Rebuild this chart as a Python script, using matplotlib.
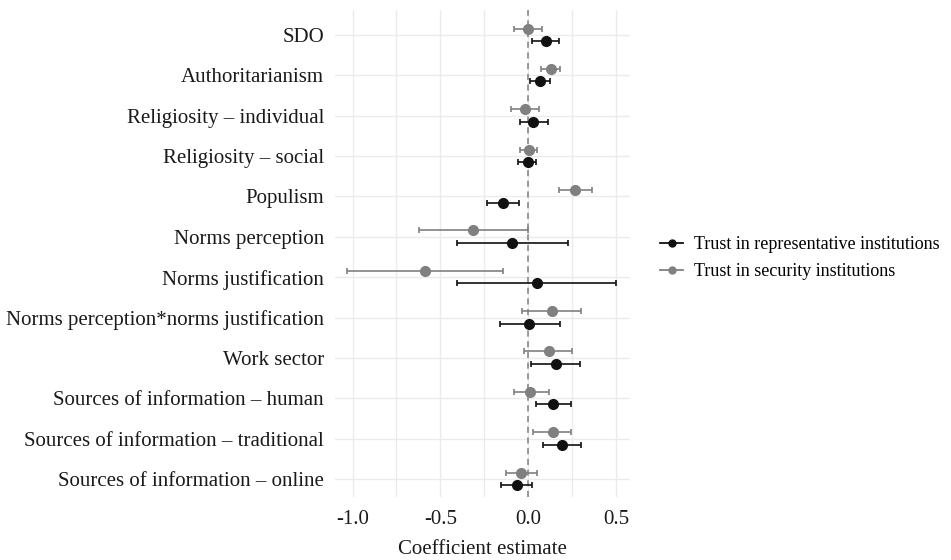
import matplotlib
matplotlib.use("Agg")
import matplotlib.pyplot as plt
from matplotlib.lines import Line2D
import numpy as np

plt.rcParams["font.family"] = ["Liberation Serif", "DejaVu Serif"]

# ── data ─────────────────────────────────────────────────────────────────────
PREDICTORS = [
    "SDO", "Authoritarianism", "Religiosity – individual", "Religiosity – social",
    "Populism", "Norms perception", "Norms justification",
    "Norms perception*norms justification", "Work sector",
    "Sources of information – human", "Sources of information – traditional",
    "Sources of information – online",
]

# Trust in representative institutions (black)
REP_EST = [0.104, 0.065, 0.028, -0.002, -0.144, -0.091, 0.051, 0.006, 0.156, 0.140, 0.193, -0.064]
REP_LO  = [0.021, 0.013, -0.047, -0.055, -0.236, -0.405, -0.405, -0.161, 0.015, 0.042, 0.085, -0.157]
REP_HI  = [0.178, 0.125, 0.112, 0.045, -0.051, 0.229, 0.502, 0.184, 0.294, 0.243, 0.303, 0.021]

# Trust in security institutions (gray)
SEC_EST = [0.000, 0.131, -0.017, 0.006, 0.265, -0.312, -0.589, 0.133, 0.116, 0.012, 0.140, -0.038]
SEC_LO  = [-0.080, 0.072, -0.098, -0.045, 0.176, -0.619, -1.032, -0.036, -0.023, -0.083, 0.028, -0.128]
SEC_HI  = [0.080, 0.184, 0.061, 0.051, 0.364, 0.000, -0.146, 0.303, 0.250, 0.118, 0.243, 0.051]

SERIES = [
    ("Trust in representative institutions", REP_EST, REP_LO, REP_HI, "#111111", -0.15),
    ("Trust in security institutions", SEC_EST, SEC_LO, SEC_HI, "#808080", 0.16),
]

fig = plt.figure(figsize=(9.51, 5.6), dpi=100)
ax = fig.add_axes([335 / 951, 63 / 560, 295 / 951, 487 / 560])

n = len(PREDICTORS)
y = np.arange(n)[::-1].astype(float)

for name, est, lo, hi, col, dy in SERIES:
    est = np.array(est); lo = np.array(lo); hi = np.array(hi)
    ax.errorbar(est, y + dy, xerr=[est - lo, hi - est], fmt="o", color=col,
                ecolor=col, elinewidth=1.2, capsize=2.5, capthick=1.2,
                markersize=7, zorder=3)

ax.axvline(0, color="#808080", ls=(0, (4, 3)), lw=1.1, zorder=2)

ax.set_xlim(-1.1, 0.58)
ax.set_ylim(-0.446, n - 1 + 0.62)
ax.set_xticks([-1.0, -0.5, 0.0, 0.5])
ax.set_xticklabels(["-1.0", "-0.5", "0.0", "0.5"])
ax.set_xticks([-0.75, -0.25, 0.25], minor=True)
ax.set_yticks(y)
ax.set_yticklabels(PREDICTORS)
ax.tick_params(axis="both", which="both", length=0, labelsize=15, colors="#1a1a1a")
ax.tick_params(axis="y", pad=8)
ax.tick_params(axis="x", pad=9)
ax.grid(True, which="major", color="#ebebeb", lw=1.0, zorder=0)
ax.grid(True, which="minor", axis="x", color="#ebebeb", lw=1.0, zorder=0)
ax.set_axisbelow(True)
for s in ax.spines.values():
    s.set_visible(False)
ax.set_xlabel("Coefficient estimate", fontsize=15, color="#1a1a1a", labelpad=8)

handles = [Line2D([0], [0], color=col, marker="o", markersize=5, lw=1.3, label=name)
           for name, _, _, _, col, _ in SERIES]
fig.legend(handles=handles, loc="center left", bbox_to_anchor=(660 / 951, 1 - 258 / 560),
           frameon=False, fontsize=13, handlelength=1.3, handletextpad=0.6,
           labelspacing=0.55, borderpad=0, borderaxespad=0)

fig.savefig("out.png", dpi=100, facecolor="white")
